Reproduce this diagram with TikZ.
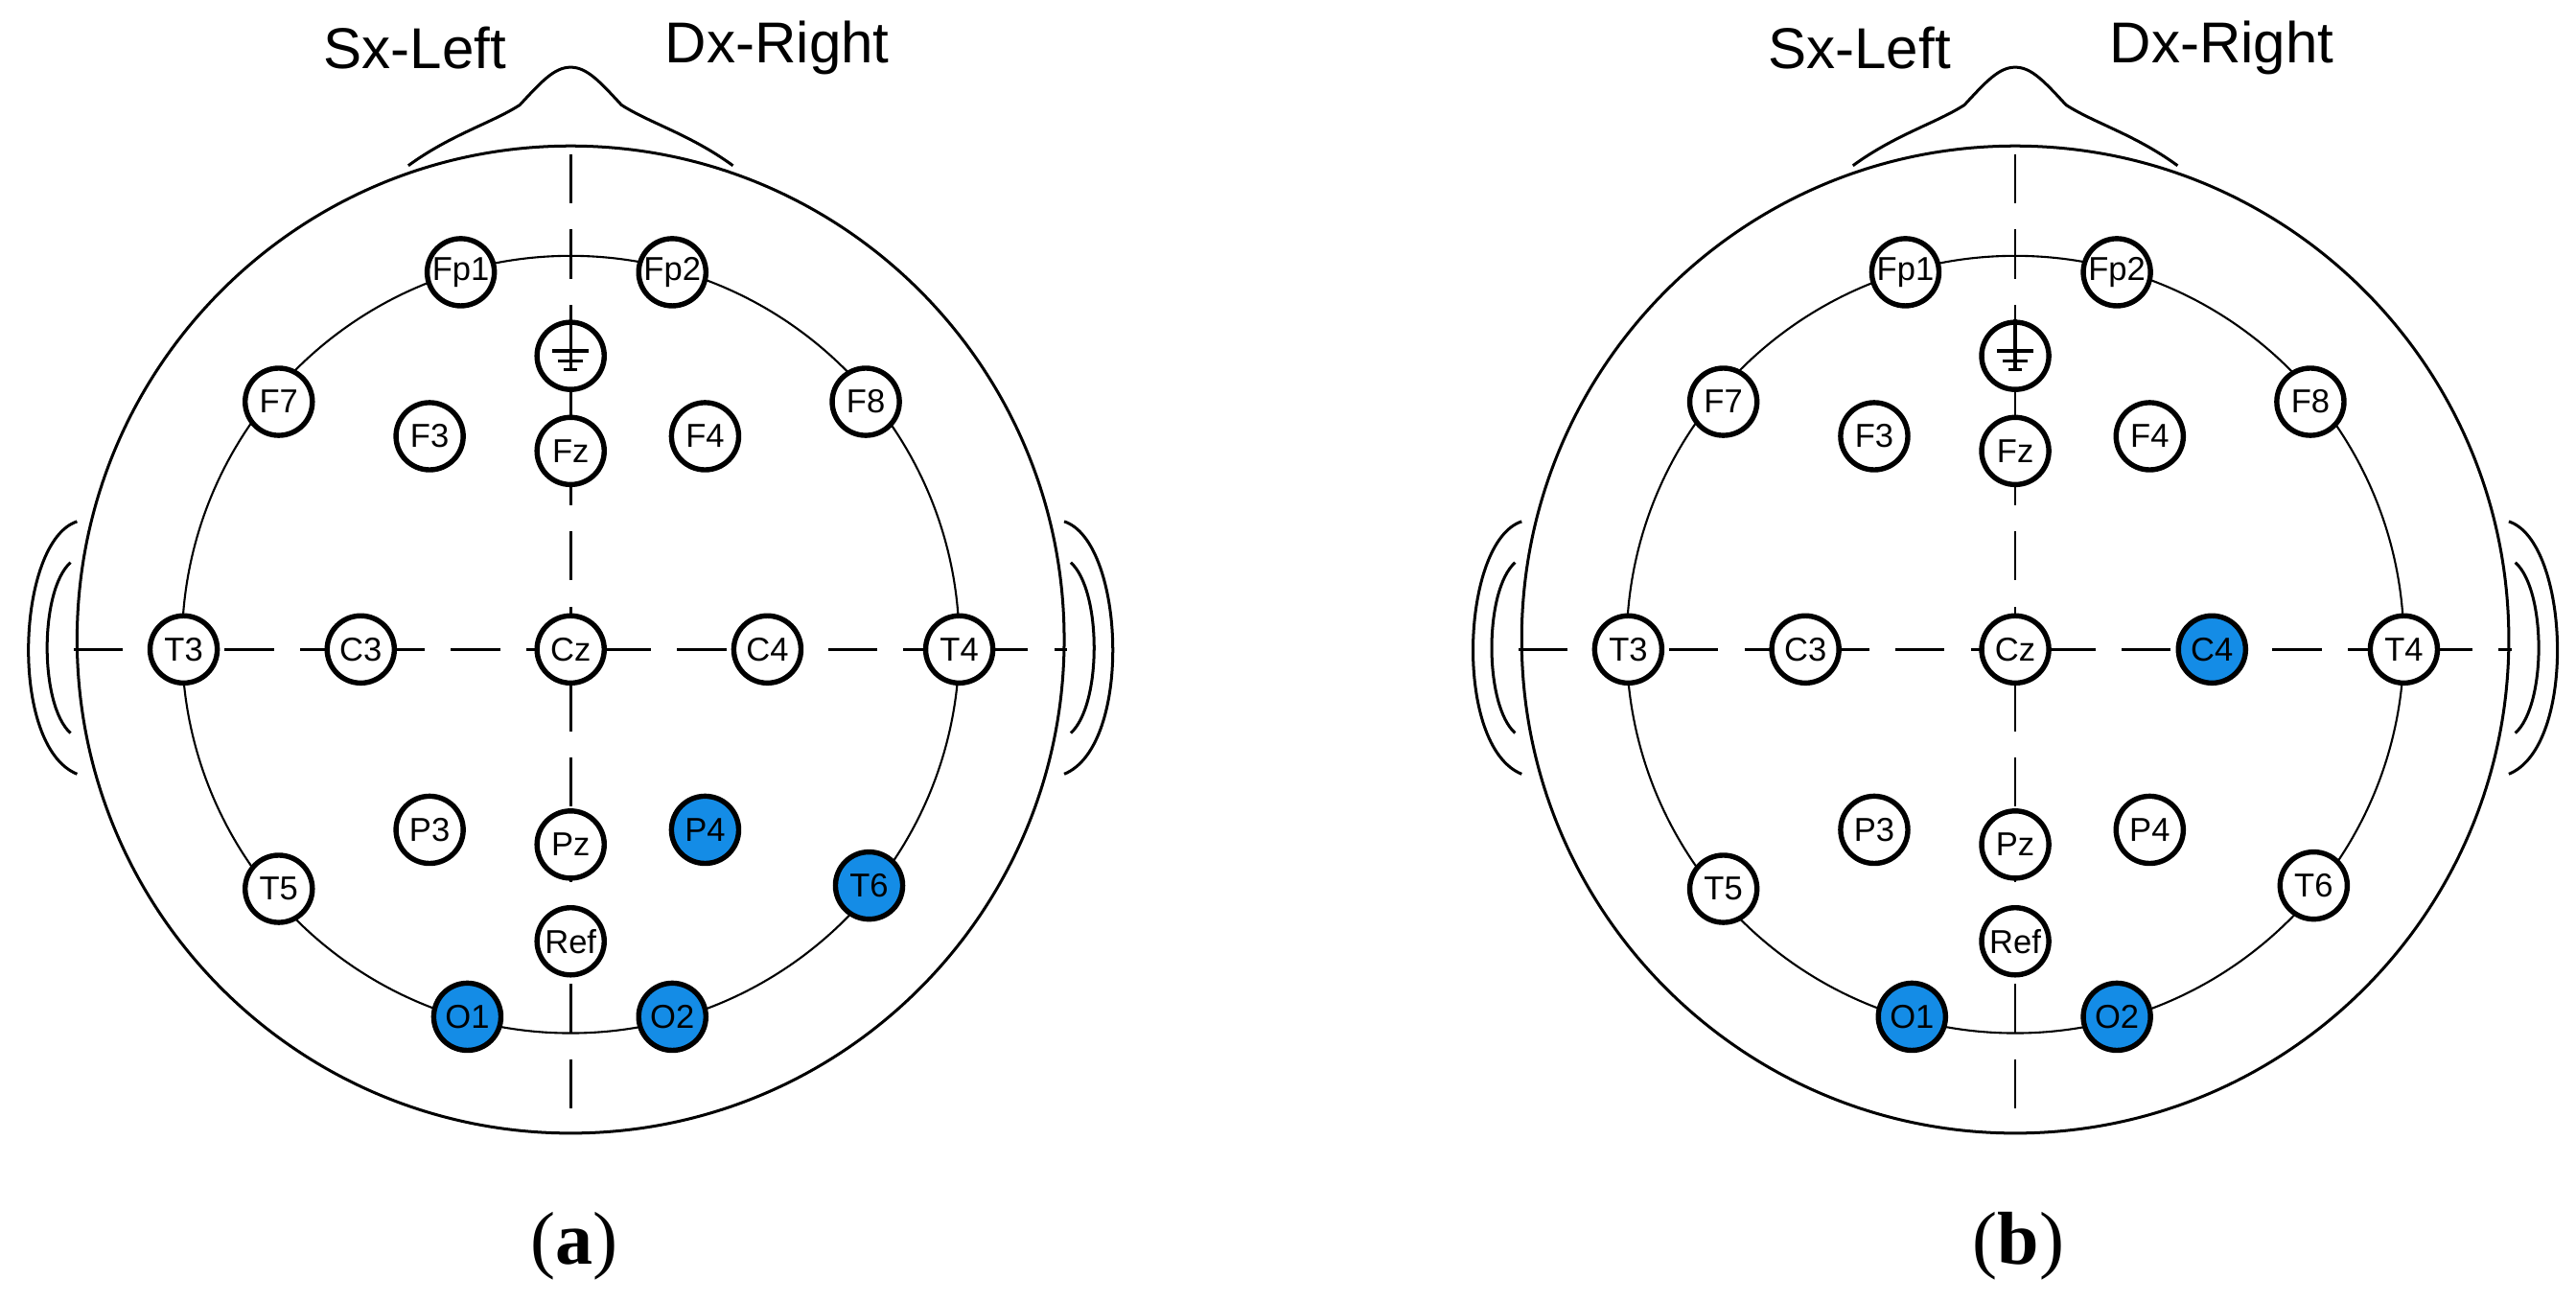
\documentclass[tikz,border=0pt]{standalone}
\usepackage{fontspec}
\setmainfont{Liberation Sans}
\newfontfamily\capfont{Liberation Serif}
\definecolor{eegblue}{RGB}{20,140,230}
\begin{document}
\begin{tikzpicture}[x={(0.02cm,0)},y={(0,-0.02cm)},
  elec/.style={circle,draw,line width=1.8pt,fill=white,minimum size=0.82cm,inner sep=0pt,font=\fontsize{11.5}{12}\selectfont},
  headline/.style={line width=1pt},
  innerline/.style={line width=0.7pt},
  axis/.style={line width=0.9pt,dash pattern=on 0.6cm off 0.32cm},
  side/.style={font=\fontsize{20}{22}\selectfont},
  captext/.style={font=\capfont\fontsize{26}{28}\selectfont}]
\useasboundingbox (0,0) rectangle (1571,794);
\newcommand\eeghead[2]{%
\begin{scope}[shift={(#1,0)}]
  \draw[headline] (348,390) circle[radius=301];
  \draw[innerline] (348,393) circle[radius=237];
  \draw[headline] (249,101) .. controls (275,82) and (300,75) .. (317,64)
     .. controls (330,50) and (338,41) .. (348,41)
     .. controls (358,41) and (366,50) .. (379,64)
     .. controls (396,75) and (421,82) .. (447,101);
  \draw[headline] (47,318) .. controls (10,330) and (5,455) .. (47,472);
  \draw[headline] (43,343) .. controls (24,360) and (24,430) .. (43,447);
  \draw[headline] (649,318) .. controls (686,330) and (691,455) .. (649,472);
  \draw[headline] (653,343) .. controls (672,360) and (672,430) .. (653,447);
  \draw[axis] (348,94) -- (348,690);
  \draw[axis] (45,396) -- (651,396);
  \node[side] (#2-sx) at (253,29) {Sx-Left};
  \node[side] (#2-dx) at (474,29) {Dx-Right};
  \node[captext] (#2-cap) at (350,760) {(\textbf{#2})};
  \foreach \n/\x/\y in {Fp1/281/166,Fp2/410/166,F7/170/245,F3/262/266,Fz/348/275,F4/430/266,F8/528/245,
     T3/112/396,C3/220/396,Cz/348/396,C4/468/396,T4/585/396,P3/262/506,Pz/348/515,P4/430/506,
     T5/170/542,T6/530/540,Ref/348/574,O1/285/620,O2/410/620}
    \node[elec,el\n/.try] (#2-\n) at (\x,\y) {\n};
  \node[elec] (#2-gnd) at (348,217) {};
  \draw[line width=1.1pt] (#2-gnd.north) -- ([yshift=-0.18cm]#2-gnd.center)
     ([xshift=-0.22cm,yshift=0.06cm]#2-gnd.center) -- ([xshift=0.22cm,yshift=0.06cm]#2-gnd.center)
     ([xshift=-0.15cm,yshift=-0.06cm]#2-gnd.center) -- ([xshift=0.15cm,yshift=-0.06cm]#2-gnd.center)
     ([xshift=-0.08cm,yshift=-0.17cm]#2-gnd.center) -- ([xshift=0.08cm,yshift=-0.17cm]#2-gnd.center);
\end{scope}}
\begin{scope}[elP4/.style={fill=eegblue},elT6/.style={fill=eegblue},elO1/.style={fill=eegblue},elO2/.style={fill=eegblue}]
\eeghead{0}{a}
\end{scope}
\begin{scope}[elC4/.style={fill=eegblue},elO1/.style={fill=eegblue},elO2/.style={fill=eegblue}]
\eeghead{881}{b}
\end{scope}
\end{tikzpicture}
\end{document}
